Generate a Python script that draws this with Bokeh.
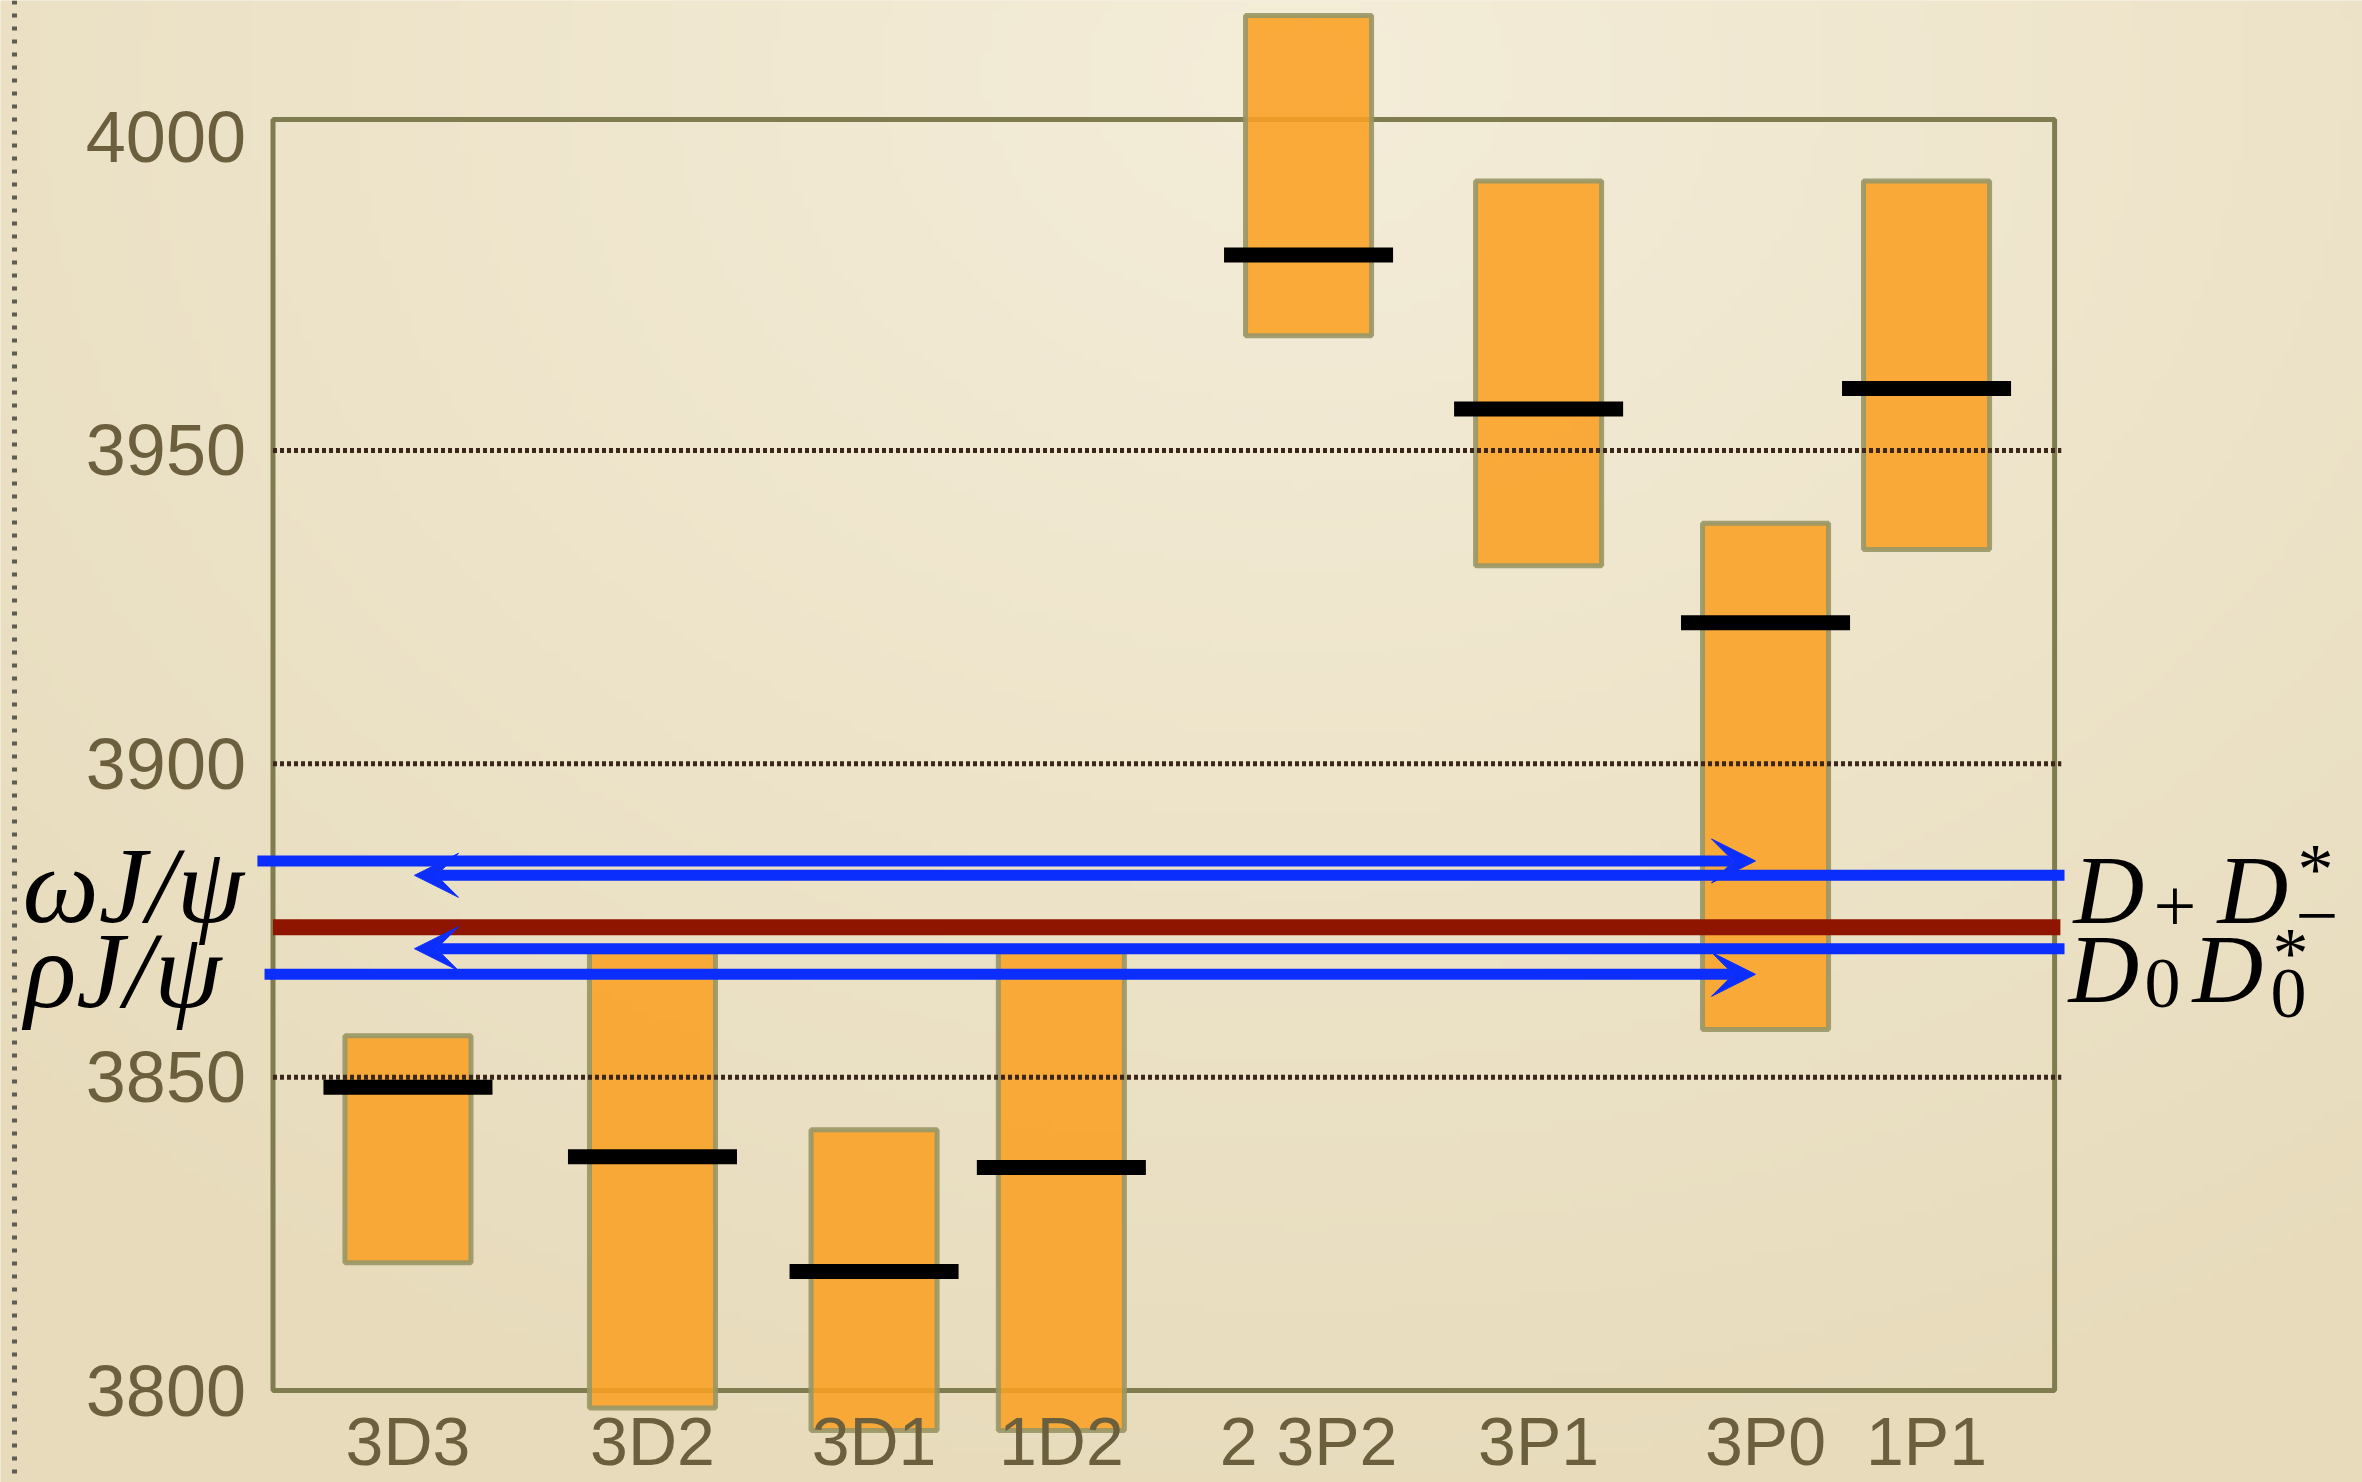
import numpy as np
from bokeh.plotting import figure
from bokeh.models import (Range1d, LinearAxis, FixedTicker, CustomJSTickFormatter,
                          Arrow, VeeHead, Label, Span)
from bokeh.embed import file_html
from bokeh.resources import INLINE

# ---------------- data ----------------
categories = ["3D3", "3D2", "3D1", "1D2", "2 3P2", "3P1", "3P0", "1P1"]
x_pos = [0.606, 1.704, 2.699, 3.540, 4.650, 5.683, 6.702, 7.425]
band_top = [3856.6, 3870.0, 3841.6, 3870.0, 4019.4, 3993.0, 3938.4, 3993.0]
band_bottom = [3820.4, 3797.2, 3793.6, 3793.6, 3968.3, 3931.6, 3857.6, 3934.2]
central = [3848.4, 3837.3, 3819.0, 3835.6, 3981.2, 3956.6, 3922.5, 3959.9]
y_ticks = [3800, 3850, 3900, 3950, 4000]
grid_values = [3850, 3900, 3950]

# thresholds (MeV)
omega_jpsi = 3884.5
dplus_dstar = 3882.2
x3872 = 3873.9
d0_d0star = 3870.5
rho_jpsi = 3866.4

# ---------------- styling ----------------
W, H = 2362, 1482
PX_X = 222.7          # px per category slot
K_Y = 6.267           # px per MeV
x0 = -272.5 / PX_X
x1 = x0 + W / PX_X
y0 = 3800 - (H - 1390) / K_Y
y1 = y0 + H / K_Y
FRAME_TOP = 4002.8

BG = "#ECE2C5"
TICK_COLOR = "#6B5F3E"
FRAME_COLOR = "#7F7D50"
BAR_FILL = "#F9A023"
BAR_LINE = "#989666"
BLUE = "#0B2EFD"
RED = "#8F1500"
GRID = "#3A261A"

p = figure(width=W, height=H, x_range=Range1d(x0, x1), y_range=Range1d(y0, y1),
           x_axis_type=None, y_axis_type=None, toolbar_location=None,
           output_backend="svg", min_border=0, outline_line_color=None,
           background_fill_color=BG, border_fill_color=BG)

# paper-like background shading
gh, gw = 148, 236
yy, xx = np.mgrid[0:gh, 0:gw]
u = (xx + 0.5) / gw
v = 1.0 - (yy + 0.5) / gh          # 0 at top of picture
t = np.clip(np.sqrt(((u - 0.55) * 1.25) ** 2 + ((v - 0.05) * 1.0) ** 2), 0, 1)
light = np.array([244, 237, 217])
dark = np.array([231, 219, 187])
img = np.empty((gh, gw), dtype=np.uint32)
view = img.view(dtype=np.uint8).reshape((gh, gw, 4))
for c in range(3):
    view[:, :, c] = (light[c] * (1 - t) + dark[c] * t).astype(np.uint8)
view[:, :, 3] = 255
p.image_rgba(image=[img], x=x0, y=y0, dw=x1 - x0, dh=y1 - y0)

# slide margin dotted line
p.add_layout(Span(location=x0 + 14 / PX_X, dimension="height", line_color="#5F5B55",
                  line_width=5, line_dash="4 9"))

# frame
p.quad(left=0, right=8, bottom=3800, top=FRAME_TOP, fill_color=None,
       line_color=FRAME_COLOR, line_width=5)

# bands
p.vbar(x=x_pos, width=0.566, top=band_top, bottom=band_bottom,
       fill_color=BAR_FILL, fill_alpha=0.88, line_color=BAR_LINE, line_width=5,
       line_alpha=0.9)

# dotted grid
p.segment(x0=0, x1=8.03, y0=grid_values, y1=grid_values, line_color=GRID,
          line_width=5, line_dash="4 3")

# central values
p.rect(x=x_pos, y=central, width=0.759, height=15, height_units="screen",
       fill_color="black", line_color=None)

# X(3872) line
p.segment(x0=0, x1=8.026, y0=x3872, y1=x3872, line_color=RED, line_width=16)

# threshold arrows
tip_left = (414 - 272.5) / PX_X
tip_right = (1755 - 272.5) / PX_X
right_end = (2064 - 272.5) / PX_X
for xs, xe, yv in [(-0.070, tip_right, omega_jpsi),
                   (right_end, tip_left, dplus_dstar),
                   (right_end, tip_left, d0_d0star),
                   (-0.038, tip_right, rho_jpsi)]:
    p.add_layout(Arrow(end=VeeHead(size=44, fill_color=BLUE, line_color=BLUE, line_width=1),
                       x_start=xs, y_start=yv, x_end=xe, y_end=yv,
                       line_color=BLUE, line_width=11))

# axes
yax = LinearAxis(ticker=FixedTicker(ticks=y_ticks), fixed_location=0,
                 axis_line_color=None, major_tick_line_color=None,
                 minor_tick_line_color=None, major_tick_out=0, major_tick_in=0,
                 major_label_text_font="Liberation Sans",
                 major_label_text_font_size="72px",
                 major_label_text_color=TICK_COLOR, major_label_standoff=27)
p.add_layout(yax, "left")

fmt = CustomJSTickFormatter(args=dict(labels=categories, pos=x_pos),
                            code="const i = pos.findIndex((v) => Math.abs(v - tick) < 1e-6); return i < 0 ? '' : labels[i];")
xax = LinearAxis(ticker=FixedTicker(ticks=x_pos), formatter=fmt, fixed_location=3800,
                 axis_line_color=None, major_tick_line_color=None,
                 minor_tick_line_color=None, major_tick_out=0, major_tick_in=0,
                 major_label_text_font="Liberation Sans",
                 major_label_text_font_size="68px",
                 major_label_text_color=TICK_COLOR, major_label_standoff=12)
p.add_layout(xax, "below")

# threshold labels
def lab(x, y, text, size, style, dx=0, dy=0):
    p.add_layout(Label(x=x, y=y, x_offset=dx, y_offset=dy, text=text,
                       text_font="Liberation Serif", text_font_style=style,
                       text_font_size=f"{size}px", text_color="black",
                       text_align="left", text_baseline="alphabetic"))

lab(x0 + 22 / PX_X, 3880.6, "ωJ/ψ", 108, "italic")
lab(x0 + 24 / PX_X, 3867.0, "ρJ/ψ", 108, "italic")

ax1, ay1 = (2073 - 272.5) / PX_X, 3879.8
for text, dx, dy, size, style in [("D", 0, 0, 98, "italic"), ("+", 80, -16, 76, "normal"),
                                  ("D", 144, 0, 98, "italic"), ("*", 224, 21, 72, "normal"),
                                  ("−", 222, -26, 76, "normal")]:
    lab(ax1, ay1, text, size, style, dx, dy)

ax2, ay2 = (2068 - 272.5) / PX_X, 3867.3
for text, dx, dy, size, style in [("D", 0, 0, 98, "italic"), ("0", 76, -15, 72, "normal"),
                                  ("D", 124, 0, 98, "italic"), ("*", 204, 16, 72, "normal"),
                                  ("0", 202, -25, 72, "normal")]:
    lab(ax2, ay2, text, size, style, dx, dy)

open("out.html", "w").write(file_html(p, INLINE))
